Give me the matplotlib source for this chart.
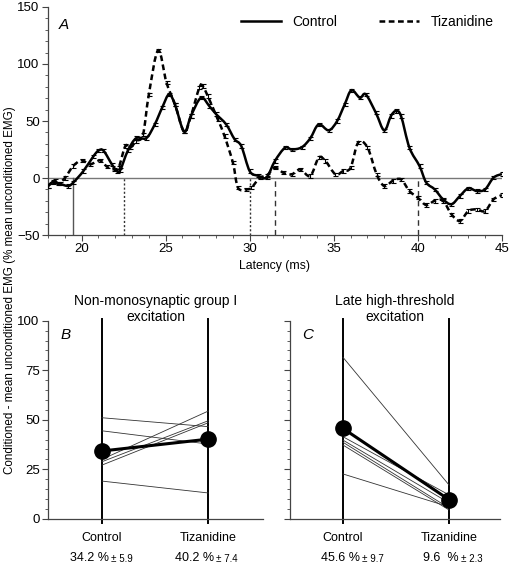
import matplotlib.pyplot as plt
import numpy as np
from matplotlib.lines import Line2D
from matplotlib.patches import PathPatch
from matplotlib.path import Path
from matplotlib.ticker import MultipleLocator

plt.rcParams["font.family"] = ["Liberation Sans", "DejaVu Sans"]

# Panel A: averaged traces (latency in ms, % mean unconditioned EMG)
control_x = [18.0, 18.3, 18.7, 19.2, 19.5, 20.1, 20.7, 21.0, 21.3, 21.8, 22.1,
             22.3, 22.75, 23.25, 23.85, 24.35, 24.8, 25.2, 25.55, 26.1, 26.5,
             27.1, 27.6, 28.0, 28.6, 29.1, 29.5, 30.0, 30.5, 31.0, 31.5, 32.1,
             32.5, 33.1, 33.6, 34.1, 34.7, 35.2, 35.65, 36.05, 36.55, 36.9,
             37.5, 38.0, 38.4, 38.7, 39.0, 39.5, 40.1, 40.5, 41.0, 41.5, 42.0,
             42.5, 43.0, 43.5, 44.0, 44.5, 45.0]
control_y = [-7, -3.5, -5, -7, -4, 6, 19, 24, 24, 12, 6,
             7, 24, 35, 35, 47, 62, 73.4, 64.6, 40.6, 54.4,
             70.4, 63, 56, 47, 34, 28, 6, 2, 0.5, 15, 26.6,
             25, 27, 34.8, 47, 41.8, 50, 64.6, 77, 70.4, 73.4,
             57.3, 41.8, 54.4, 58.8, 54.4, 26.6, 10.5, -4, -9.9, -18.7, -23,
             -15.8, -9, -11.4, -10, 0.3, 3.5]

tiz_x = [18.0, 18.4, 18.6, 19.0, 19.5, 20.0, 20.5, 21.1, 21.5, 21.9, 22.2,
         22.6, 22.9, 23.25, 23.65, 24.0, 24.55, 25.05, 25.55, 26.1, 26.5,
         27.0, 27.2, 27.5, 28.1, 28.5, 29.0, 29.3, 29.8, 30.1, 30.6, 31.0,
         31.5, 32.0, 32.5, 33.0, 33.6, 34.1, 34.5, 35.1, 35.55, 36.0, 36.45,
         37.0, 37.55, 38.0, 38.5, 39.0, 39.5, 40.0, 40.5, 41.0, 41.5, 42.0,
         42.5, 43.0, 43.5, 44.0, 44.5, 45.0]
tiz_y = [-7, -2.6, -5, 0, 10.5, 15.5, 12, 15.5, 10, 7.6, 9,
         28, 26.6, 32.5, 38, 73.4, 112, 83.6, 64.6, 40.6, 54.4,
         79.2, 80.7, 72, 51.5, 36.8, 13.4, -8.5, -9.9, -8.5, 0.3, 2,
         9, 4.6, 3.2, 7.6, 1.8, 17.8, 15, 3.2, 6.1, 9, 31,
         27, 3.2, -7, -2.6, -1.2, -11.4, -17.3, -23.7, -20, -20, -31.8,
         -37.7, -29, -27.5, -29, -18.7, -15]
sem = 1.5

# window boundaries (ms)
onset_solid = [19.5]
onset_dotted = [22.5, 30.0]
onset_dashed = [31.5, 40.0]

# Panels B and C: individual subjects and means
conditions = ["Control", "Tizanidine"]
b_subjects = [[51.0, 46.5], [44.4, 37.7], [30.0, 54.4], [28.8, 49.5],
              [27.1, 48.5], [19.0, 13.0]]
b_mean = [34.2, 40.2]
b_sem = [5.9, 7.4]
c_subjects = [[81.5, 17.0], [41.4, 12.0], [39.7, 8.0], [38.6, 5.4],
              [37.2, 4.4], [22.6, 6.0]]
c_mean = [45.6, 9.6]
c_sem = [9.7, 2.3]

spine_col = "#444444"
tiz_dash = (0, (2.3, 1.4))


def smooth_path(xs, ys):
    # Catmull-Rom through the read points, drawn as cubic Bezier segments
    p = np.column_stack([xs, ys]).astype(float)
    p = np.vstack([p[0], p, p[-1]])
    verts = [p[1]]
    codes = [Path.MOVETO]
    for i in range(1, len(p) - 2):
        c1 = p[i] + (p[i + 1] - p[i - 1]) / 6.0
        c2 = p[i + 1] - (p[i + 2] - p[i]) / 6.0
        verts += [c1, c2, p[i + 1]]
        codes += [Path.CURVE4] * 3
    return Path(verts, codes)


fig = plt.figure(figsize=(5.1, 5.64), dpi=100)
axA = fig.add_axes([0.0941, 0.5833, 0.890, 0.4043])
axB = fig.add_axes([0.0941, 0.0803, 0.4216, 0.351])
axC = fig.add_axes([0.5686, 0.0803, 0.4118, 0.351])

# ---- panel A
axA.axhline(0, color="#777777", lw=1.0, zorder=1)
for x in onset_solid:
    axA.plot([x, x], [-50, 0], color="#555555", lw=1.0)
for x in onset_dotted:
    axA.plot([x, x], [-50, 0], color="#333333", lw=1.0, ls=(0, (1.5, 1.5)))
for x in onset_dashed:
    axA.plot([x, x], [-50, 0], color="#333333", lw=1.0, ls=(0, (4, 3)))

for xs, ys, ls in ((control_x, control_y, "-"), (tiz_x, tiz_y, tiz_dash)):
    axA.add_patch(PathPatch(smooth_path(xs, ys), facecolor="none",
                            edgecolor="black", lw=1.8, ls=ls, zorder=3))
    axA.errorbar(xs, ys, yerr=sem, fmt="none", ecolor="black",
                 elinewidth=0.8, capsize=1.8, capthick=0.8, zorder=4)

axA.set_xlim(18, 45)
axA.set_ylim(-50, 150)
axA.xaxis.set_major_locator(MultipleLocator(5))
axA.xaxis.set_minor_locator(MultipleLocator(1))
axA.yaxis.set_major_locator(MultipleLocator(50))
axA.yaxis.set_minor_locator(MultipleLocator(10))
axA.set_xlabel("Latency (ms)", fontsize=8.8, labelpad=3)
axA.text(0.023, 0.92, "A", transform=axA.transAxes, fontsize=11,
         style="italic", va="center")
legend_lines = [Line2D([], [], color="black", lw=1.8),
                Line2D([], [], color="black", lw=1.8, ls=tiz_dash)]
axA.legend(legend_lines, conditions, loc="center right",
           bbox_to_anchor=(1.0, 0.934), ncol=2, frameon=False, fontsize=10,
           handlelength=2.9, handletextpad=0.8, columnspacing=3.0,
           borderaxespad=0.2)


# ---- panels B and C
def pair_panel(ax, subjects, mean, sem_vals, title, letter, offsets,
               show_labels):
    xs = [0, 1]
    for x in xs:
        ax.plot([x, x], [-2, 101], color="black", lw=1.4, clip_on=False,
                zorder=2)
    for s in subjects:
        ax.plot(xs, s, color="#333333", lw=0.6, zorder=3)
    ax.plot(xs, mean, color="black", lw=2.2, marker="o", ms=11, zorder=4,
            clip_on=False)
    ax.set_xlim(-0.508, 1.514)
    ax.set_ylim(0, 100)
    ax.set_xticks([])
    ax.yaxis.set_major_locator(MultipleLocator(25))
    ax.yaxis.set_minor_locator(MultipleLocator(5))
    if not show_labels:
        ax.set_yticklabels([])
    ax.text(0.5, 1.0 + 12 / 198, title, transform=ax.transAxes, fontsize=10,
            ha="center", va="center", linespacing=1.15)
    ax.text(0.056, 0.928, letter, transform=ax.transAxes, fontsize=11,
            style="italic", va="center")
    for x, name, m, e, off in zip(xs, conditions, mean, sem_vals, offsets):
        ax.annotate(name, (x, 0), xytext=(0, -14), textcoords="offset points",
                    ha="center", va="center", fontsize=9, annotation_clip=False)
        main = "%.1f %%" % m if m >= 10 else "%.1f  %%" % m
        ax.annotate(main, (x, 0), xytext=(off, -28.5),
                    textcoords="offset points", ha="right", va="center",
                    fontsize=9, annotation_clip=False)
        ax.annotate("\u00b1 %.1f" % e, (x, 0), xytext=(off + 1.5, -29),
                    textcoords="offset points", ha="left", va="center",
                    fontsize=7, annotation_clip=False)


pair_panel(axB, b_subjects, b_mean, b_sem,
           "Non-monosynaptic group I\nexcitation", "B", [5, 4], True)
pair_panel(axC, c_subjects, c_mean, c_sem,
           "Late high-threshold\nexcitation", "C", [12, 7], False)
axC.set_xlim(-0.50, 1.48)

for ax in (axA, axB, axC):
    for side in ("top", "right"):
        ax.spines[side].set_visible(False)
    for side in ("left", "bottom"):
        ax.spines[side].set_color(spine_col)
        ax.spines[side].set_linewidth(0.9)
    ax.tick_params(axis="both", which="major", direction="out", length=4,
                   width=0.8, color=spine_col, labelsize=9.5, pad=2)
    ax.tick_params(axis="both", which="minor", direction="out", length=2,
                   width=0.6, color=spine_col)

fig.text(10 / 510, 1 - 290 / 564,
         "Conditioned - mean unconditioned EMG (% mean unconditioned EMG)",
         rotation=90, ha="center", va="center", fontsize=8.4)

fig.savefig("out.png", dpi=100)
